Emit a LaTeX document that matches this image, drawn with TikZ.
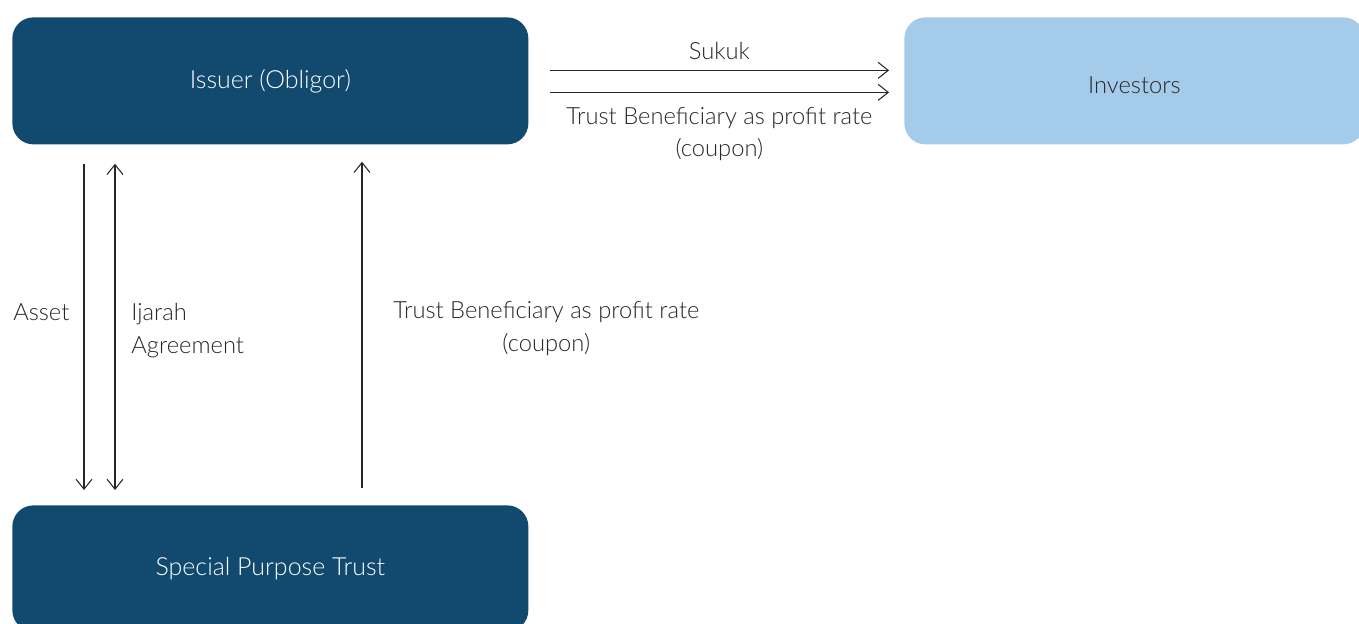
\documentclass[tikz,border=0pt]{standalone}
\usepackage{fontspec}
\setmainfont{Lato}[UprightFont=* Light]
\usepackage{xcolor}
\usetikzlibrary{arrows.meta,positioning,calc}
\definecolor{navy}{HTML}{124A6F}
\definecolor{skyblue}{HTML}{A5CBEA}
\definecolor{ink}{HTML}{262626}

\begin{document}
\begin{tikzpicture}[x=0.02cm,y=-0.02cm,
    >={Straight Barb[length=0.2cm,width=0.32cm]},
    font=\fontsize{13.5}{18.7}\selectfont,
    box/.style={rounded corners=12,inner sep=0pt,anchor=north west,minimum height=127*0.02cm},
    darkbox/.style={box,fill=navy,text=white,font=\fontsize{14.2}{18.7}\selectfont},
    lightbox/.style={box,fill=skyblue,text=ink},
    flow/.style={->,ink,line width=0.6pt},
    lbl/.style={text=ink,inner sep=0pt}]
    \useasboundingbox (0,0) rectangle (1359,623);

    % the three parties
    \node[darkbox,minimum width=516*0.02cm] (issuer) at (12,17) {Issuer (Obligor)};
    \node[lightbox,minimum width=460*0.02cm,text height=14.3pt,text depth=0pt] (investors) at (904,17) {Investors};
    \node[darkbox,minimum width=516*0.02cm,minimum height=126*0.02cm] (spt) at (12,505) {Special Purpose Trust};

    % issuer <-> investors
    \draw[flow] ($(issuer.east)+(21,-10.5)$) -- node[lbl,above=6pt] {Sukuk} ($(investors.west)+(-15,-10.5)$);
    \draw[flow] ($(issuer.east)+(21,11.5)$) -- node[lbl,below=8pt,align=center] {Trust Beneficiary as profit rate\\(coupon)} ($(investors.west)+(-15,11.5)$);

    % issuer <-> trust
    \draw[flow] ($(issuer.south west)+(72,19)$) -- node[lbl,left=8pt,pos=0.455] {Asset} ($(spt.north west)+(72,-15)$);
    \draw[flow,<->] ($(issuer.south west)+(103,19)$) -- node[lbl,right=9pt,pos=0.512,align=left] {Ijarah\\Agreement} ($(spt.north west)+(103,-15)$);
    \draw[flow] ($(spt.north west)+(350,-17)$) -- node[lbl,right=17.5pt,pos=0.49,align=center] {Trust Beneficiary as profit rate\\(coupon)} ($(issuer.south west)+(350,17)$);
\end{tikzpicture}
\end{document}
